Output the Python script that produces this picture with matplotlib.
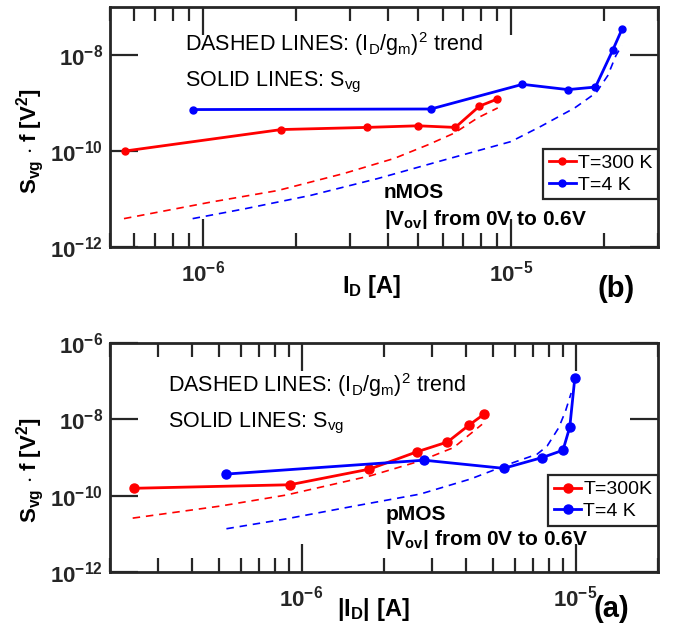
import numpy as np
import matplotlib
matplotlib.use("Agg")
import matplotlib.pyplot as plt
from matplotlib.ticker import LogLocator, FuncFormatter, NullFormatter, NullLocator

plt.rcParams['font.family'] = ['Liberation Sans', 'DejaVu Sans']
plt.rcParams['mathtext.fontset'] = 'custom'
plt.rcParams['mathtext.rm'] = 'Liberation Sans'
plt.rcParams['mathtext.it'] = 'Liberation Sans:italic'
plt.rcParams['mathtext.bf'] = 'Liberation Sans:bold'

# ---- nMOS (panel b) ----
n300_id = [5.6e-7, 1.8e-6, 3.4e-6, 5.0e-6, 6.6e-6, 7.9e-6, 9.0e-6]
n300_svg = [1.0e-10, 2.8e-10, 3.1e-10, 3.35e-10, 3.1e-10, 8.6e-10, 1.2e-9]
n300_trend_id = [5.55e-7, 1.06e-6, 1.75e-6, 2.87e-6, 4.18e-6, 5.37e-6, 6.55e-6, 7.8e-6, 9.06e-6]
n300_trend = [3.9e-12, 8.6e-12, 1.5e-11, 3.4e-11, 7.0e-11, 1.34e-10, 2.36e-10, 4.9e-10, 7.9e-10]

n4_id = [9.3e-7, 5.5e-6, 1.09e-5, 1.53e-5, 1.88e-5, 2.14e-5, 2.29e-5]
n4_svg = [7.3e-10, 7.5e-10, 2.45e-9, 1.9e-9, 2.15e-9, 1.27e-8, 3.4e-8]
n4_trend_id = [9.27e-7, 1.36e-6, 2.24e-6, 3.69e-6, 6.07e-6, 1.0e-5, 1.25e-5,
               1.61e-5, 1.89e-5, 2.06e-5, 2.19e-5, 2.29e-5]
n4_trend = [3.9e-12, 6.2e-12, 1.19e-11, 2.66e-11, 6.5e-11, 1.57e-10, 3.26e-10,
            7.9e-10, 1.64e-9, 3.7e-9, 9.7e-9, 1.57e-8]

# ---- pMOS (panel a) ----
p300_id = [2.44e-7, 9.06e-7, 1.77e-6, 2.63e-6, 3.41e-6, 4.07e-6, 4.62e-6]
p300_svg = [1.56e-10, 1.93e-10, 4.96e-10, 1.4e-9, 2.55e-9, 6.9e-9, 1.34e-8]
p300_trend_id = [2.42e-7, 5.02e-7, 8.8e-7, 1.78e-6, 2.71e-6, 3.59e-6, 4.56e-6]
p300_trend = [2.58e-11, 5.3e-11, 1.04e-10, 3.3e-10, 8.1e-10, 1.82e-9, 7.4e-9]

p4_id = [5.28e-7, 2.8e-6, 5.47e-6, 7.57e-6, 9.0e-6, 9.53e-6, 9.94e-6]
p4_svg = [3.67e-10, 8.5e-10, 5.2e-10, 1.0e-9, 1.55e-9, 6.3e-9, 1.21e-7]
p4_trend_id = [5.32e-7, 8.8e-7, 1.55e-6, 2.71e-6, 4.13e-6, 5.94e-6, 7.24e-6,
               7.88e-6, 8.68e-6, 9.19e-6, 9.64e-6]
p4_trend = [1.36e-11, 2.47e-11, 5.3e-11, 1.1e-10, 2.72e-10, 7.4e-10, 1.22e-9,
            2.0e-9, 6.0e-9, 1.63e-8, 4.9e-8]

RED = '#ff0000'
BLUE = '#0000ff'

W, H = 677, 636


def pow10(v, pos):
    e = int(round(np.log10(v)))
    return r'$\mathbf{10^{%d}}$' % e


def style_axes(ax, xlim, ylim, yticks):
    ax.set_xscale('log')
    ax.set_yscale('log')
    ax.set_xlim(xlim)
    ax.set_ylim(ylim)
    ax.xaxis.set_major_locator(LogLocator(base=10))
    ax.xaxis.set_minor_locator(LogLocator(base=10, subs=np.arange(2, 10)))
    ax.xaxis.set_major_formatter(FuncFormatter(pow10))
    ax.xaxis.set_minor_formatter(NullFormatter())
    ax.set_yticks(yticks)
    ax.yaxis.set_minor_locator(NullLocator())
    ax.yaxis.set_major_formatter(FuncFormatter(pow10))
    ax.tick_params(which='both', direction='in', top=True, right=True,
                   width=1.6, colors='#262626', labelsize=16)
    ax.tick_params(which='major', length=20)
    ax.tick_params(which='minor', length=10)
    ax.tick_params(axis='x', pad=10)
    ax.tick_params(axis='y', pad=5)
    for sp in ax.spines.values():
        sp.set_linewidth(2.0)
        sp.set_color('#262626')


def draw_curves(ax, id300, s300, tid300, t300, id4, s4, tid4, t4, lab300, lab4, ms):
    ax.plot(tid300, t300, color=RED, lw=1.2, dashes=(4.5, 3.5))
    ax.plot(tid4, t4, color=BLUE, lw=1.2, dashes=(4.5, 3.5))
    ax.plot(id300, s300, color=RED, lw=2.0, marker='o', ms=ms, label=lab300)
    ax.plot(id4, s4, color=BLUE, lw=2.0, marker='o', ms=ms, label=lab4)


def add_legend(ax, top):
    leg = ax.legend(loc='upper right', bbox_to_anchor=(1.0, top), borderaxespad=0,
                    fontsize=14, handlelength=1.4, handletextpad=0.1, labelspacing=0.2,
                    borderpad=0.3, fancybox=False, framealpha=1, edgecolor='#262626')
    leg.get_frame().set_linewidth(1.6)


fig = plt.figure(figsize=(W / 100, H / 100), dpi=100)

# top panel (b)
ax_b = fig.add_axes([110 / W, 1 - 247 / H, 548 / W, 240 / H])
draw_curves(ax_b, n300_id, n300_svg, n300_trend_id, n300_trend,
            n4_id, n4_svg, n4_trend_id, n4_trend, 'T=300 K', 'T=4 K', 5)
style_axes(ax_b, (5e-7, 3e-5), (1e-12, 1e-7), [1e-12, 1e-10, 1e-8])
add_legend(ax_b, 0.41)
ax_b.text(0.137, 0.817, r'DASHED LINES: (I$_\mathrm{D}$/g$_\mathrm{m}$)$^2$ trend',
          transform=ax_b.transAxes, fontsize=15.5, va='baseline')
ax_b.text(0.137, 0.668, r'SOLID LINES: S$_\mathrm{vg}$',
          transform=ax_b.transAxes, fontsize=15.5, va='baseline')
ax_b.text(0.499, 0.203, 'nMOS', transform=ax_b.transAxes, fontsize=15,
          fontweight='bold', va='baseline')
ax_b.text(0.5, 0.092, r'|V$_\mathbf{ov}$| from 0V to 0.6V', transform=ax_b.transAxes,
          fontsize=15, fontweight='bold', va='baseline')

# bottom panel (a)
ax_a = fig.add_axes([110 / W, 1 - 572 / H, 548 / W, 229 / H])
draw_curves(ax_a, p300_id, p300_svg, p300_trend_id, p300_trend,
            p4_id, p4_svg, p4_trend_id, p4_trend, 'T=300K', 'T=4 K', 6.5)
style_axes(ax_a, (2e-7, 2e-5), (1e-12, 1e-6), [1e-12, 1e-10, 1e-8, 1e-6])
add_legend(ax_a, 0.424)
ax_a.text(0.106, 0.787, r'DASHED LINES: (I$_\mathrm{D}$/g$_\mathrm{m}$)$^2$ trend',
          transform=ax_a.transAxes, fontsize=15.5, va='baseline')
ax_a.text(0.106, 0.632, r'SOLID LINES: S$_\mathrm{vg}$',
          transform=ax_a.transAxes, fontsize=15.5, va='baseline')
ax_a.text(0.502, 0.227, 'pMOS', transform=ax_a.transAxes, fontsize=15,
          fontweight='bold', va='baseline')
ax_a.text(0.502, 0.118, r'|V$_\mathbf{ov}$| from 0V to 0.6V', transform=ax_a.transAxes,
          fontsize=15, fontweight='bold', va='baseline')

# axis labels and panel tags
ylab = r'S$_\mathbf{vg}$ $\cdot$ f [V$^\mathbf{2}$]'
fig.text(30 / W, 1 - 141 / H, ylab, rotation=90, ha='center', va='center',
         fontsize=16, fontweight='bold')
fig.text(30 / W, 1 - 470 / H, ylab, rotation=90, ha='center', va='center',
         fontsize=16, fontweight='bold')
fig.text(372 / W, 1 - 293 / H, r'I$_\mathbf{D}$ [A]', ha='center', va='baseline',
         fontsize=17, fontweight='bold')
fig.text(373 / W, 1 - 616 / H, r'|I$_\mathbf{D}$| [A]', ha='center', va='baseline',
         fontsize=17, fontweight='bold')
fig.text(616 / W, 1 - 297 / H, '(b)', ha='center', va='baseline',
         fontsize=21, fontweight='bold')
fig.text(611 / W, 1 - 617 / H, '(a)', ha='center', va='baseline',
         fontsize=21, fontweight='bold')

fig.savefig('out.png', dpi=100)
